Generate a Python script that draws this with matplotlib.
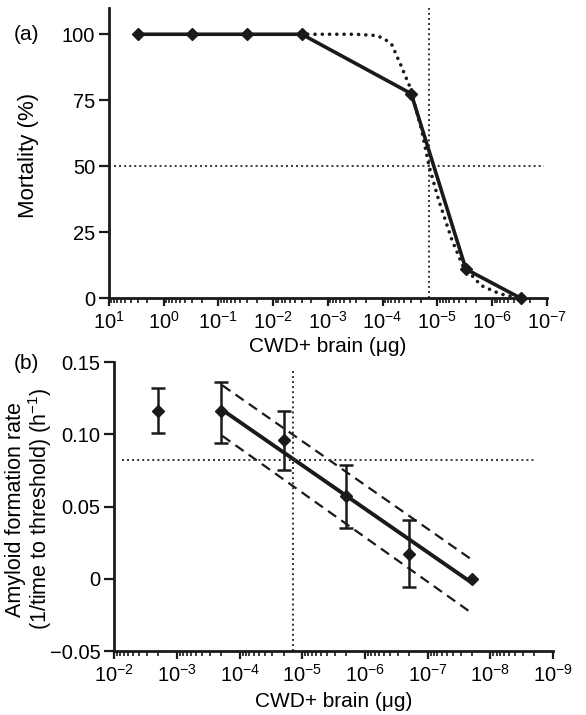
import numpy as np
import matplotlib.pyplot as plt
from matplotlib.ticker import LogLocator, NullFormatter, FixedLocator

plt.rcParams['font.family'] = ['Liberation Sans', 'DejaVu Sans']
plt.rcParams['mathtext.fontset'] = 'custom'
plt.rcParams['mathtext.rm'] = 'Liberation Sans'
plt.rcParams['mathtext.it'] = 'Liberation Sans:italic'
plt.rcParams['mathtext.bf'] = 'Liberation Sans:bold'
plt.rcParams['font.size'] = 14

# (a) mortality vs dose
dose_a = [3, 0.3, 0.03, 0.003, 3e-5, 3e-6, 3e-7]
mortality = [100, 100, 100, 100, 77.5, 11, 0]
# fitted curve (dotted)
fit_log_a = [-2.5, -3.0, -3.5, -3.9, -4.05, -4.17, -4.34, -4.51, -4.71, -4.85,
             -5.02, -5.26, -5.46, -5.8, -6.15, -6.5]
fit_mort = [100, 100, 100, 99.5, 98, 96, 88, 79.5, 64, 50,
            37.5, 22.5, 12.5, 4.8, 1.6, 0]
ld50_dose = 1.4e-5
ld50_level = 50
decades_a = [1e1, 1e0, 1e-1, 1e-2, 1e-3, 1e-4, 1e-5, 1e-6, 1e-7]

# (b) amyloid formation rate vs dose
dose_b = [2e-3, 2e-4, 2e-5, 2e-6, 2e-7, 2e-8]
rate = [0.116, 0.116, 0.096, 0.057, 0.017, 0.0]
rate_lo = [0.101, 0.094, 0.075, 0.035, -0.006, 0.0]
rate_hi = [0.132, 0.136, 0.116, 0.079, 0.041, 0.0]
line_x = [1.9e-4, 1.95e-8]
line_y = [0.117, -0.003]
band_hi = [0.134, 0.013]
band_lo = [0.099, -0.024]
rate_ref_dose = 1.4e-5
rate_ref_level = 0.082
decades_b = [1e-2, 1e-3, 1e-4, 1e-5, 1e-6, 1e-7, 1e-8, 1e-9]

fig = plt.figure(figsize=(5.86, 7.15), dpi=100)
ax_a = fig.add_axes([0.186, 0.583, 0.747, 0.406])
ax_b = fig.add_axes([0.195, 0.0895, 0.749, 0.404])

def style_axes(ax, decades):
    for s in ['top', 'right']:
        ax.spines[s].set_visible(False)
    for s in ['left', 'bottom']:
        ax.spines[s].set_linewidth(2)
        ax.spines[s].set_color('#1a1a1a')
    ax.set_xscale('log')
    ax.xaxis.set_major_locator(FixedLocator(decades))
    ax.xaxis.set_minor_locator(LogLocator(base=10, subs=np.arange(2, 10), numticks=200))
    ax.xaxis.set_minor_formatter(NullFormatter())
    ax.tick_params(which='major', length=6, width=1.6, direction='out', color='#1a1a1a',
                   pad=3, labelsize=14.5)
    ax.tick_params(which='minor', length=3.5, width=1.2, direction='out', color='#1a1a1a')
    ax.tick_params(axis='y', which='major', length=7)

dotted = (0, (1, 1.6))

# ---- panel (a)
style_axes(ax_a, decades_a)
ax_a.plot(10 ** np.array(fit_log_a), fit_mort, color='#1a1a1a', lw=2.6,
          linestyle=(0, (0.01, 2.0)), dash_capstyle='round')
ax_a.plot(dose_a, mortality, color='#1a1a1a', lw=2.6, marker='D', ms=6, clip_on=False, zorder=5)
ax_a.plot([10, 1.1e-7], [ld50_level, ld50_level], color='#333333', lw=1.4, linestyle=dotted)
ax_a.plot([ld50_dose, ld50_dose], [0, 110], color='#333333', lw=1.4, linestyle=dotted)
ax_a.set_xlim(10, 1e-7)
ax_a.set_ylim(0, 110)
ax_a.set_yticks([0, 25, 50, 75, 100])
ax_a.set_xlabel('CWD+ brain (μg)', labelpad=3, fontsize=15)
ax_a.text(-0.185, 0.49, 'Mortality (%)', transform=ax_a.transAxes, rotation=90,
          ha='center', va='center', fontsize=16)
fig.text(0.024, 1 - 34 / 715, '(a)', ha='left', va='center', fontsize=15)

# ---- panel (b)
style_axes(ax_b, decades_b)
rate = np.array(rate)
yerr = [rate - np.array(rate_lo), np.array(rate_hi) - rate]
ax_b.errorbar(dose_b[:-1], rate[:-1], yerr=[yerr[0][:-1], yerr[1][:-1]], fmt='none',
              ecolor='#1a1a1a', elinewidth=1.8, capsize=4.7, capthick=1.8)
ax_b.plot(line_x, line_y, color='#1a1a1a', lw=2.8)
ax_b.plot(line_x, band_hi, color='#1a1a1a', lw=1.6, linestyle=(0, (4.5, 2.8)))
ax_b.plot(line_x, band_lo, color='#1a1a1a', lw=1.6, linestyle=(0, (4.5, 2.8)))
ax_b.plot(dose_b, rate, linestyle='none', marker='D', ms=6, color='#1a1a1a', zorder=5)
ax_b.plot([7.5e-3, 1.9e-9], [rate_ref_level, rate_ref_level], color='#333333', lw=1.4,
          linestyle=dotted)
ax_b.plot([rate_ref_dose, rate_ref_dose], [-0.05, 0.144], color='#333333', lw=1.4,
          linestyle=dotted)
ax_b.set_xlim(1e-2, 1e-9)
ax_b.set_ylim(-0.05, 0.15)
ax_b.set_yticks([-0.05, 0, 0.05, 0.10, 0.15])
ax_b.set_yticklabels(['\u22120.05', '0', '0.05', '0.10', '0.15'])
ax_b.set_xlabel('CWD+ brain (μg)', labelpad=5, fontsize=15)
ax_b.text(-0.194, 0.49, 'Amyloid formation rate\n(1/time to threshold) (h$^{\u22121}$)',
          transform=ax_b.transAxes, rotation=90, ha='center', va='center',
          multialignment='center', linespacing=1.0, fontsize=15.5)
fig.text(0.024, 1 - 364 / 715, '(b)', ha='left', va='center', fontsize=15)

fig.savefig('out.png', dpi=100)
